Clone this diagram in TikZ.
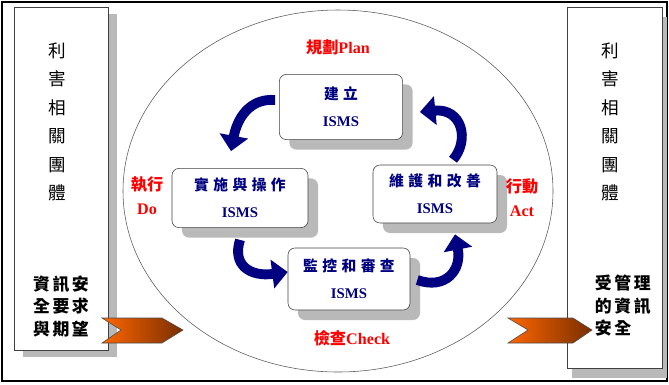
\documentclass[tikz,border=0pt]{standalone}
\usepackage{fontspec}
\setmainfont{Liberation Serif}
\newfontfamily\cjk{Noto Sans CJK TC}
\newfontfamily\cjkmid{Noto Sans CJK TC}[LetterSpace=15]
\newfontfamily\cjkwide{Noto Sans CJK TC}[LetterSpace=30]
\usetikzlibrary{
	arrows.meta,
	positioning,
	shadows,
}
\definecolor{isms blue}{RGB}{0,0,128}
\definecolor{flag orange}{RGB}{255,102,0}
\definecolor{flag brown}{RGB}{120,46,0}
\tikzset{frame/.style={draw=black,line width=1pt}}
\tikzset{ring/.style={draw=black!65,thin}}
\tikzset{panel/.style={draw=black!75,fill=white,thin}}
\tikzset{stake text/.style={align=center,text=black,font=\cjk\fontsize{12.5}{20.3}\selectfont}}
\tikzset{need text/.style={text=black,font=\cjkmid\bfseries\fontsize{12}{16}\selectfont}}
\tikzset{flag/.style={draw=black!70,thin,left color=flag orange,right color=flag brown}}
\tikzset{isms box/.style={draw=black!75,thin,fill=white,rounded corners=5pt,align=center,
	text=isms blue,font=\bfseries\fontsize{10.5}{19}\selectfont,
	drop shadow={shadow xshift=.25cm,shadow yshift=-.25cm,fill=gray!55,opacity=1}}}
\tikzset{turn arrow/.style={draw=isms blue,line width=7pt,-{Triangle[length=11pt,width=20pt]}}}
\tikzset{phase/.style={text=red,font=\bfseries\fontsize{11.5}{17}\selectfont}}

\begin{document}
\begin{tikzpicture}[x=0.025cm,y=-0.025cm]
\useasboundingbox (0,0) rectangle (669,384);
\draw[frame] (2,2) rectangle (667,381);
\draw[ring] (338,191) ellipse [x radius=215,y radius=181];

% stakeholders on both sides
\draw[panel,drop shadow={shadow xshift=.22cm,shadow yshift=-.18cm,fill=gray!55,opacity=1}] (14,7) rectangle (108,350);
\draw[panel,drop shadow={shadow xshift=.13cm,shadow yshift=-.25cm,fill=gray!55,opacity=1}] (567,7) rectangle (662,368);

\node[stake text] (left group) at (57,122) {利\\害\\相\\關\\團\\體};
\node[stake text] (right group) at (610,122) {利\\害\\相\\關\\團\\體};
\node[need text,align=center] (needs) at (61,306) {資訊安\\全要求\\與期望};
\node[need text,align=left,anchor=west] (secured) at (590,306) {受管理\\的資訊\\安全};

\shadedraw[flag] (102,318) -- (162,318) -- (183,330) -- (162,343) -- (102,343) -- (121,330) -- cycle;
\shadedraw[flag] (508,318) -- (573,318) -- (592,330) -- (573,343) -- (508,343) -- (528,330) -- cycle;

% PDCA boxes
\node[isms box,minimum width=3.08cm,minimum height=1.63cm] (build) at (341,107) {{\cjkwide 建立}\\ISMS};
\node[isms box,minimum width=3.4cm,minimum height=1.48cm] (operate) at (240,198) {{\cjkwide 實施與操作}\\ISMS};
\node[isms box,minimum width=3.1cm,minimum height=1.45cm] (improve) at (435,194) {{\cjkwide 維護和改善}\\ISMS};
\node[isms box,minimum width=3.05cm,minimum height=1.55cm] (monitor) at (349,279) {{\cjkwide 監控和審查}\\ISMS};

\draw[turn arrow] ([shift={(-4,-7)}]build.west) .. controls +(-26,-2) and +(6,-32) .. ([shift={(-9,-17)}]operate.north);
\draw[turn arrow] ([shift={(0,12)}]operate.south) .. controls +(-8,25) and +(-38,5) .. ([shift={(0,-7)}]monitor.west);
\draw[turn arrow] ([shift={(7,1)}]monitor.east) .. controls +(28,10) and +(7,36) .. ([shift={(20,11)}]improve.south);
\draw[turn arrow] ([shift={(18,-5)}]improve.north) .. controls +(17,-20) and +(42,-4) .. ([shift={(17,5)}]build.east);

\node[phase] (plan) at (338,47) {{\cjk 規劃}Plan};
\node[phase,align=center] (do) at (147,196) {{\cjk 執行}\\Do};
\node[phase,align=center] (act) at (522,198) {{\cjk 行動}\\Act};
\node[phase] (check) at (352,338) {{\cjk 檢查}Check};
\end{tikzpicture}
\end{document}
